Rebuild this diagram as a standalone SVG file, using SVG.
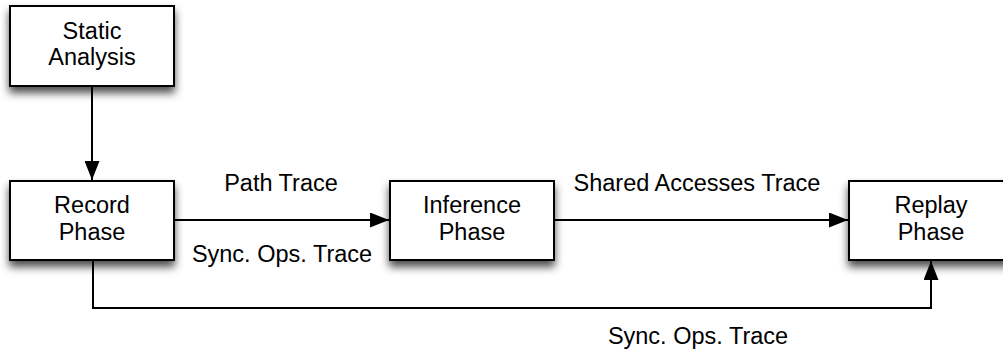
<svg xmlns="http://www.w3.org/2000/svg" width="1003" height="351" viewBox="0 0 1003 351">
  <defs>
    <filter id="shadow" x="-20%" y="-20%" width="140%" height="160%">
      <feDropShadow dx="0" dy="6" stdDeviation="4" flood-color="#000" flood-opacity="0.7"/>
    </filter>
    <marker id="arrow" viewBox="0 0 19 15" refX="19" refY="7.5" markerWidth="19" markerHeight="15" markerUnits="userSpaceOnUse" orient="auto">
      <path d="M0,0 L19,7.5 L0,15 Z" fill="#000"/>
    </marker>
  </defs>
  <style>
    .box { fill: #fff; stroke: #000; stroke-width: 2; filter: url(#shadow); }
    .label { font-family: "Liberation Sans", Arial, sans-serif; font-size: 23.5px; fill: #000; text-anchor: middle; }
    .edge { fill: none; stroke: #000; stroke-width: 2; }
  </style>
  <rect width="1003" height="351" fill="#fff"/>

  <g id="connectors">
    <line class="edge" x1="92" y1="86" x2="92" y2="180" marker-end="url(#arrow)"/>
    <line class="edge" x1="174" y1="220" x2="389" y2="220" marker-end="url(#arrow)"/>
    <line class="edge" x1="554" y1="220" x2="848" y2="220" marker-end="url(#arrow)"/>
    <polyline class="edge" points="93,260 93,308 931,308 931,261" marker-end="url(#arrow)"/>
    <text class="label" x="281" y="191">Path Trace</text>
    <text class="label" x="282" y="262">Sync. Ops. Trace</text>
    <text class="label" x="697" y="191">Shared Accesses Trace</text>
    <text class="label" x="698" y="344">Sync. Ops. Trace</text>
  </g>

  <g id="static-analysis">
    <rect class="box" x="10" y="6" width="164" height="80"/>
    <text class="label" x="92" y="39">Static</text>
    <text class="label" x="92" y="65">Analysis</text>
  </g>

  <g id="record-phase">
    <rect class="box" x="10" y="181" width="164" height="79"/>
    <text class="label" x="92" y="213">Record</text>
    <text class="label" x="92" y="240">Phase</text>
  </g>

  <g id="inference-phase">
    <rect class="box" x="390" y="181" width="164" height="79"/>
    <text class="label" x="472" y="213">Inference</text>
    <text class="label" x="472" y="240">Phase</text>
  </g>

  <g id="replay-phase">
    <rect class="box" x="849" y="181" width="164" height="79"/>
    <text class="label" x="931" y="213">Replay</text>
    <text class="label" x="931" y="240">Phase</text>
  </g>
</svg>
